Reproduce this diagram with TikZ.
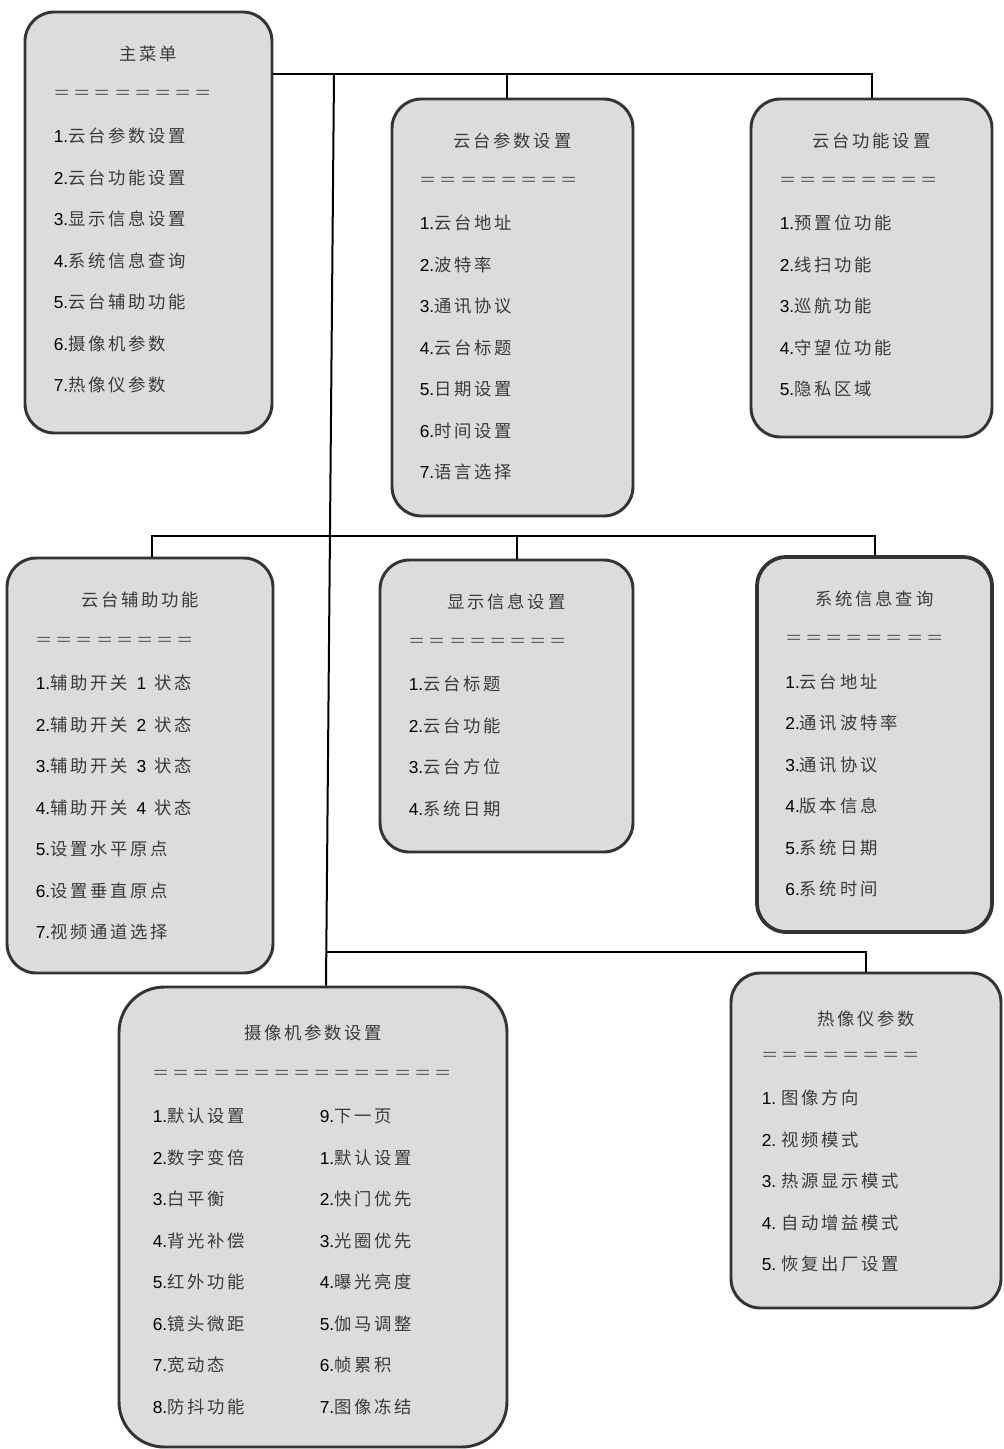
\documentclass[tikz,border=0pt]{standalone}
\usepackage{fontspec}
\setmainfont{Liberation Sans}
\newfontfamily\cjk[LetterSpace=16]{Noto Sans CJK SC}
\usepackage{xcolor}
\usepackage{tikz}
\usetikzlibrary{
  positioning,
  calc
}

\definecolor{boxfill}{HTML}{DCDCDC}
\definecolor{boxline}{HTML}{333333}
\definecolor{zhgray}{HTML}{3A3A3A}
\newcommand{\menufont}{\fontsize{13pt}{15.6pt}\selectfont}
\newcommand{\zh}[1]{{\cjk\color{zhgray}#1}}

\tikzset{
  menubox/.style={draw=boxline, fill=boxfill, line width=2.2pt, rounded corners=22pt, inner sep=0pt},
  boxtitle/.style={inner sep=0pt, font=\menufont\cjk, text=zhgray},
  boxrule/.style={anchor=west, inner sep=0pt, font=\menufont\cjk, text=black!62},
  boxitem/.style={anchor=west, inner sep=0pt, font=\menufont},
  link/.style={draw=black, line width=1.5pt}
}

\begin{document}
\begin{tikzpicture}[x=0.75pt, y=-0.75pt]
\useasboundingbox (0,0) rectangle (1003,1449);

% main menu
\node[menubox, minimum width=185.25pt, minimum height=315.75pt] (main) at (148.5,222.5) {};
\node[boxtitle] (main-title) at ($(main.north)+(0,43)$) {主菜单};
\node[boxrule] (main-rule) at ($(main.north west)+(30,84)$) {＝＝＝＝＝＝＝＝};
\foreach \t [count=\i] in {云台参数设置,云台功能设置,显示信息设置,系统信息查询,云台辅助功能,摄像机参数,热像仪参数}
  \node[boxitem] (main-\i) at ($(main.north west)+(30,{84+41.5*\i})$) {\i.\zh{\t}};

% ptz parameters
\node[menubox, minimum width=180.75pt, minimum height=312.75pt] (ptz) at (512.5,307.5) {};
\node[boxtitle] (ptz-title) at ($(ptz.north)+(0,43)$) {云台参数设置};
\node[boxrule] (ptz-rule) at ($(ptz.north west)+(29,84)$) {＝＝＝＝＝＝＝＝};
\foreach \t [count=\i] in {云台地址,波特率,通讯协议,云台标题,日期设置,时间设置,语言选择}
  \node[boxitem] (ptz-\i) at ($(ptz.north west)+(29,{84+41.5*\i})$) {\i.\zh{\t}};

% ptz functions
\node[menubox, minimum width=180.75pt, minimum height=253.5pt] (func) at (871.5,268) {};
\node[boxtitle] (func-title) at ($(func.north)+(0,43)$) {云台功能设置};
\node[boxrule] (func-rule) at ($(func.north west)+(30,84)$) {＝＝＝＝＝＝＝＝};
\foreach \t [count=\i] in {预置位功能,线扫功能,巡航功能,守望位功能,隐私区域}
  \node[boxitem] (func-\i) at ($(func.north west)+(30,{84+41.5*\i})$) {\i.\zh{\t}};

% auxiliary functions
\node[menubox, minimum width=199.5pt, minimum height=311.25pt] (aux) at (140,765.5) {};
\node[boxtitle] (aux-title) at ($(aux.north)+(0,43)$) {云台辅助功能};
\node[boxrule] (aux-rule) at ($(aux.north west)+(30,85)$) {＝＝＝＝＝＝＝＝};
\foreach \t [count=\i] in {\zh{辅助开关}\enspace1\enspace\zh{状态},\zh{辅助开关}\enspace2\enspace\zh{状态},\zh{辅助开关}\enspace3\enspace\zh{状态},\zh{辅助开关}\enspace4\enspace\zh{状态},\zh{设置水平原点},\zh{设置垂直原点},\zh{视频通道选择}}
  \node[boxitem] (aux-\i) at ($(aux.north west)+(30,{85+41.5*\i})$) {\i.\t};

% display settings
\node[menubox, minimum width=189.75pt, minimum height=219pt] (disp) at (506.5,706) {};
\node[boxtitle] (disp-title) at ($(disp.north)+(0,43)$) {显示信息设置};
\node[boxrule] (disp-rule) at ($(disp.north west)+(30,84)$) {＝＝＝＝＝＝＝＝};
\foreach \t [count=\i] in {云台标题,云台功能,云台方位,系统日期}
  \node[boxitem] (disp-\i) at ($(disp.north west)+(30,{84+41.5*\i})$) {\i.\zh{\t}};

% system information
\node[menubox, line width=2.8pt, minimum width=176.25pt, minimum height=281.25pt] (sys) at (874.5,744.5) {};
\node[boxtitle] (sys-title) at ($(sys.north)+(0,44)$) {系统信息查询};
\node[boxrule] (sys-rule) at ($(sys.north west)+(30,85)$) {＝＝＝＝＝＝＝＝};
\foreach \t [count=\i] in {云台地址,通讯波特率,通讯协议,版本信息,系统日期,系统时间}
  \node[boxitem] (sys-\i) at ($(sys.north west)+(30,{85+41.5*\i})$) {\i.\zh{\t}};

% camera parameters
\node[menubox, rounded corners=34pt, minimum width=291pt, minimum height=345pt] (cam) at (313,1217) {};
\node[boxtitle] (cam-title) at ($(cam.north)+(0,47)$) {摄像机参数设置};
\node[boxrule] (cam-rule) at ($(cam.north west)+(35,89)$) {＝＝＝＝＝＝＝＝＝＝＝＝＝＝＝};
\foreach \a/\b [count=\i] in {1.\zh{默认设置}/9.\zh{下一页},2.\zh{数字变倍}/1.\zh{默认设置},3.\zh{白平衡}/2.\zh{快门优先},4.\zh{背光补偿}/3.\zh{光圈优先},5.\zh{红外功能}/4.\zh{曝光亮度},6.\zh{镜头微距}/5.\zh{伽马调整},7.\zh{宽动态}/6.\zh{帧累积},8.\zh{防抖功能}/7.\zh{图像冻结}}{
  \node[boxitem] (cam-l\i) at ($(cam.north west)+(35,{89+41.5*\i})$) {\a};
  \node[boxitem] (cam-r\i) at ($(cam.north west)+(202,{89+41.5*\i})$) {\b};
}

% thermal imager
\node[menubox, minimum width=202.5pt, minimum height=251.25pt] (therm) at (866,1140.5) {};
\node[boxtitle] (therm-title) at ($(therm.north)+(0,47)$) {热像仪参数};
\node[boxrule] (therm-rule) at ($(therm.north west)+(32,85)$) {＝＝＝＝＝＝＝＝};
\foreach \t [count=\i] in {图像方向,视频模式,热源显示模式,自动增益模式,恢复出厂设置}
  \node[boxitem] (therm-\i) at ($(therm.north west)+(32,{85+41.5*\i})$) {\i.\ \zh{\t}};

% connectors
\coordinate (hub) at (334,74);
\coordinate (trunk-x) at (326,0);
\coordinate (mid) at (0,536);
\coordinate (low) at (0,952);
\coordinate (ptz-in) at ($(ptz.north)+(-6,0)$);
\coordinate (aux-in) at ($(aux.north)+(12,0)$);
\coordinate (disp-in) at ($(disp.north)+(10,0)$);
\draw[link] (main.east |- hub) -- (func.north |- hub) -- (func.north);
\draw[link] (ptz-in |- hub) -- (ptz-in);
\draw[link] (hub) -- (cam.north -| trunk-x);
\draw[link] (aux-in) -- (aux-in |- mid) -- (sys.north |- mid) -- (sys.north);
\draw[link] (disp-in |- mid) -- (disp-in);
\draw[link] (low -| trunk-x) -- (therm.north |- low) -- (therm.north);
\end{tikzpicture}
\end{document}
